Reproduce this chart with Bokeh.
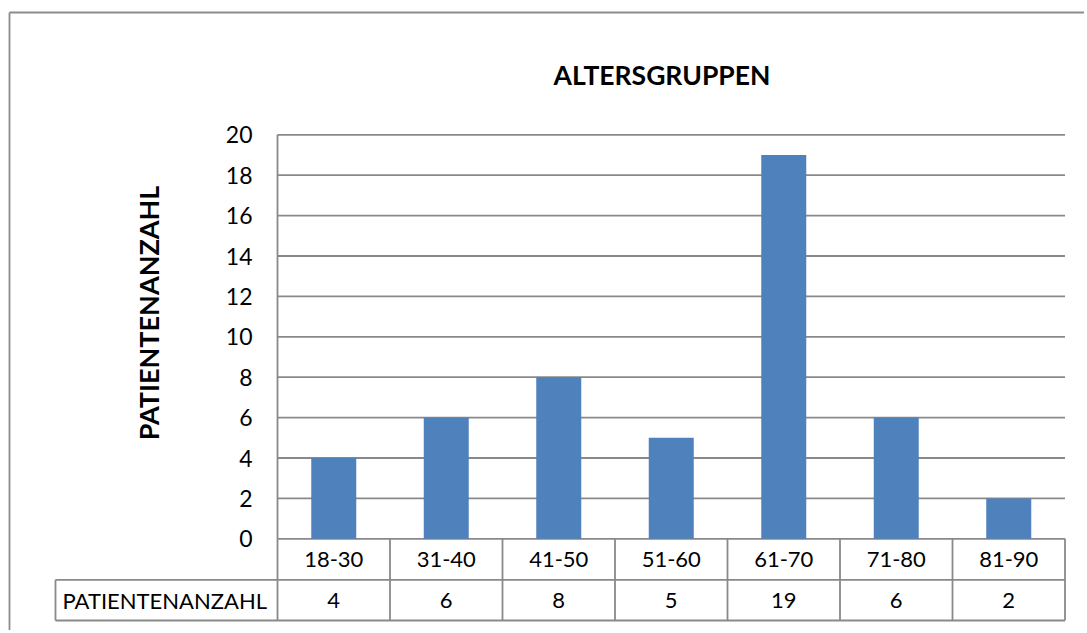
from bokeh.plotting import figure
from bokeh.models import ColumnDataSource, Range1d
from bokeh.core.properties import value
from bokeh.embed import file_html
from bokeh.resources import INLINE

# ---- data ----
categories = ["18-30", "31-40", "41-50", "51-60", "61-70", "71-80", "81-90"]
patients = [4, 6, 8, 5, 19, 6, 2]
y_ticks = [0, 2, 4, 6, 8, 10, 12, 14, 16, 18, 20]
title_text = "ALTERSGRUPPEN"
y_label = "PATIENTENANZAHL"
series_name = "PATIENTENANZAHL"

# ---- layout constants (pixel geometry of reference) ----
W, H = 1084, 630
PX0, PY0 = 277.0, 538.3      # image px of (x=0, y=0)
SX, SY = 112.5, 20.2         # px per category / per unit
OFF = 0                      # page offset of the figure

def dx(px):
    return (px - PX0) / SX

def dy(py):
    return (PY0 - py) / SY

x_start, x_end = dx(OFF), dx(OFF + W)
y_top, y_bot = dy(OFF), dy(OFF + H)

p = figure(width=W, height=H, output_backend="svg", toolbar_location=None,
           x_range=Range1d(x_start, x_end), y_range=Range1d(y_bot, y_top),
           x_axis_type=None, y_axis_type=None, min_border=0,
           background_fill_color="white", border_fill_color="white")
p.outline_line_color = None

FONT = value("Lato")
GRID = "#898989"
LW = 1.8
n = len(categories)
ymax = max(y_ticks)

# gridlines (behind bars)
p.segment(x0=[0] * len(y_ticks), x1=[n] * len(y_ticks), y0=y_ticks, y1=y_ticks,
          line_color=GRID, line_width=LW)
# value axis line
p.segment(x0=[0], x1=[0], y0=[0], y1=[ymax], line_color=GRID, line_width=LW)

# bars
xs = [i + 0.5 for i in range(n)]
src = ColumnDataSource(dict(x=xs, cat=categories, val=patients,
                            lab=[str(v) for v in patients]))
p.vbar(x="x", top="val", bottom=0, width=0.4, source=src,
       fill_color="#4F81BD", line_color=None)

# data table below the plot
row1 = dy(579.3)
row2 = dy(620.0)
lab_left = dx(55.0)
# horizontal lines
p.segment(x0=[lab_left, lab_left], x1=[n, n], y0=[row1, row2], y1=[row1, row2],
          line_color=GRID, line_width=LW)
# vertical lines of category columns
p.segment(x0=list(range(n + 1)), x1=list(range(n + 1)),
          y0=[0] * (n + 1), y1=[row2] * (n + 1), line_color=GRID, line_width=LW)
# left edge of series-name cell
p.segment(x0=[lab_left], x1=[lab_left], y0=[row1], y1=[row2],
          line_color=GRID, line_width=LW)

FS = "22px"
p.text(x="x", y=(0 + row1) / 2, text="cat", source=src, text_font=FONT,
       text_font_size=FS, text_align="center", text_baseline="middle",
       text_color="black")
p.text(x="x", y=(row1 + row2) / 2, text="lab", source=src, text_font=FONT,
       text_font_size=FS, text_align="center", text_baseline="middle",
       text_color="black")
p.text(x=[dx(62)], y=[(row1 + row2) / 2], text=[series_name], text_font=FONT,
       text_font_size=FS, text_align="left", text_baseline="middle",
       text_color="black")

# y tick labels
p.text(x=[dx(252)] * len(y_ticks), y=y_ticks, text=[str(t) for t in y_ticks],
       text_font=FONT, text_font_size="23px", text_align="right",
       text_baseline="middle", text_color="black")

# axis title (rotated)
p.text(x=[dx(148)], y=[dy(312.5)], text=[y_label], angle=1.5707963,
       text_font=FONT, text_font_size="27px", text_font_style="bold",
       text_align="center", text_baseline="middle", text_color="black")

# chart title
p.text(x=[dx(661.5)], y=[dy(74)], text=[title_text], text_font=FONT,
       text_font_size="26.5px", text_font_style="bold", text_align="center",
       text_baseline="middle", text_color="black")

# outer chart border
bx, by = dx(9), dy(12)
p.segment(x0=[bx, bx], x1=[x_end + 1, bx], y0=[by, by], y1=[by, y_bot - 1],
          line_color="#8c8c8c", line_width=LW)

open("out.html", "w").write(file_html(p, INLINE))
